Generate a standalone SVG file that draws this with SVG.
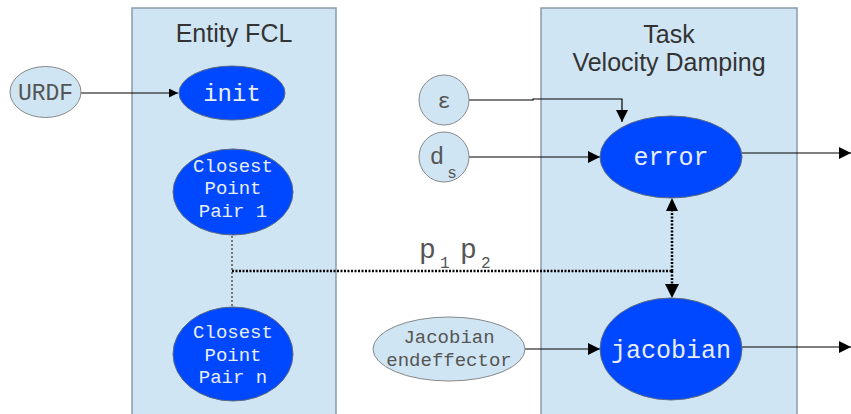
<svg xmlns="http://www.w3.org/2000/svg" width="851" height="414" viewBox="0 0 851 414">
<style>
.panel{fill:#cfe5f3;stroke:#8c9aa6;stroke-width:1.5}
.title{font-family:"Liberation Sans",Arial,sans-serif;font-size:25px;fill:#333;text-anchor:middle}
.blue{fill:#0048ff;stroke:#5a6a80;stroke-width:1}
.light{fill:#cfe5f3;stroke:#888;stroke-width:1}
.wt{font-family:"Liberation Mono","Courier New",monospace;fill:#e8eef8;text-anchor:middle}
.gt{font-family:"Liberation Mono","Courier New",monospace;fill:#555;text-anchor:middle}
.ln{fill:none;stroke:#000;stroke-width:1.2}
.dot{fill:none;stroke:#000;stroke-width:2.5;stroke-dasharray:2 1.5}
</style>
<defs>
<marker id="ah" viewBox="0 0 10 10" refX="10" refY="5" markerWidth="9" markerHeight="9" markerUnits="userSpaceOnUse" orient="auto"><path d="M0,0 L10,5 L0,10 z" fill="#000"/></marker>
<marker id="ah2" viewBox="0 0 10 10" refX="10" refY="5" markerWidth="12" markerHeight="12" markerUnits="userSpaceOnUse" orient="auto"><path d="M0,0 L10,5 L0,10 z" fill="#000"/></marker>
</defs>
<rect width="851" height="414" fill="#fff"/>
<g id="panel-fcl">
<rect class="panel" x="132" y="8" width="204" height="420"/>
<text class="title" x="234" y="42">Entity FCL</text>
</g>
<g id="panel-task">
<rect class="panel" x="541" y="8" width="256" height="420"/>
<text class="title" x="669" y="43">Task</text>
<text class="title" x="669" y="71">Velocity Damping</text>
</g>
<g id="connectors">
<path class="ln" d="M81,93 H178" marker-end="url(#ah)"/>
<path class="ln" d="M469,100 H533 V99 H622 V122" marker-end="url(#ah2)"/>
<path class="ln" d="M469,157 H600" marker-end="url(#ah2)"/>
<path class="ln" d="M525,349 H600" marker-end="url(#ah2)"/>
<path class="ln" d="M742,153 H851" marker-end="url(#ah2)"/>
<path class="ln" d="M742,347 H851" marker-end="url(#ah2)"/>
<path d="M232,236 V306" fill="none" stroke="#777" stroke-width="2" stroke-dasharray="2 2"/>
<path class="dot" d="M232,271 H672"/>
<path class="dot" d="M672,271 V210"/>
<path class="dot" d="M672,271 V286"/>
<path d="M666,211 L672,198 L678,211 z" fill="#000"/>
<path d="M665,284 L672,298 L679,284 z" fill="#000"/>
<text x="419" y="258" font-family="Liberation Mono,monospace" font-size="28" fill="#555">p</text>
<text x="440" y="268" font-family="Liberation Mono,monospace" font-size="16" fill="#555">1</text>
<text x="460" y="258" font-family="Liberation Mono,monospace" font-size="28" fill="#555">p</text>
<text x="481" y="268" font-family="Liberation Mono,monospace" font-size="16" fill="#555">2</text>
</g>
<g id="urdf">
<ellipse class="light" cx="45.5" cy="92" rx="35.5" ry="25.5"/>
<text class="gt" x="45.5" y="100" font-size="23">URDF</text>
</g>
<g id="init">
<ellipse class="blue" cx="232" cy="93" rx="53" ry="27"/>
<text class="wt" x="232" y="101" font-size="24">init</text>
</g>
<g id="cpp1">
<ellipse class="blue" cx="233" cy="192" rx="60" ry="43"/>
<text class="wt" x="233" y="172" font-size="19">Closest</text>
<text class="wt" x="233" y="194" font-size="19">Point</text>
<text class="wt" x="233" y="217" font-size="19">Pair 1</text>
</g>
<g id="cppn">
<ellipse class="blue" cx="233" cy="354" rx="60" ry="47"/>
<text class="wt" x="233" y="338" font-size="19">Closest</text>
<text class="wt" x="233" y="361" font-size="19">Point</text>
<text class="wt" x="233" y="383" font-size="19">Pair n</text>
</g>
<g id="epsilon">
<circle class="light" cx="444" cy="100" r="25"/>
<text class="gt" x="444" y="108" font-size="22">ε</text>
</g>
<g id="ds">
<circle class="light" cx="444" cy="157" r="25"/>
<text class="gt" x="437" y="164" font-size="24">d</text>
<text class="gt" x="452" y="178" font-size="16">s</text>
</g>
<g id="jacobian-ee">
<ellipse class="light" cx="449" cy="349" rx="76" ry="32"/>
<text class="gt" x="449" y="343" font-size="19">Jacobian</text>
<text class="gt" x="449" y="366" font-size="19">endeffector</text>
</g>
<g id="error">
<ellipse class="blue" cx="671" cy="157" rx="71" ry="41"/>
<text class="wt" x="671" y="165" font-size="25">error</text>
</g>
<g id="jacobian">
<ellipse class="blue" cx="671" cy="349" rx="71" ry="51"/>
<text class="wt" x="671" y="358" font-size="25">jacobian</text>
</g>
</svg>
